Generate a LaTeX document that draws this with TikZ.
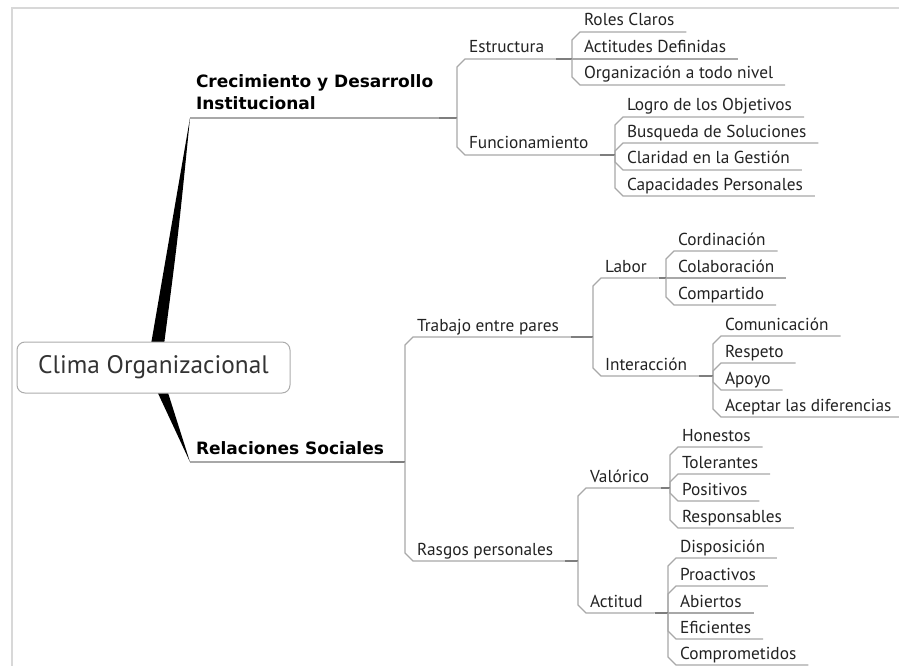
\documentclass[tikz,border=0pt]{standalone}
\usepackage{fontspec}
\setmainfont{PT Sans}
\newfontfamily\headfont{DejaVu Sans}
\definecolor{linkgray}{HTML}{A8A8A8}
\definecolor{stubgray}{HTML}{7E7E7E}
\definecolor{framegray}{HTML}{D8D8D8}
\definecolor{inkgray}{HTML}{222222}

\tikzset{
  topic/.style={anchor=south west, outer sep=0pt, inner xsep=12pt, inner ysep=6pt, text depth=0pt, text=inkgray, font=\fontsize{17.3}{18}\selectfont},
  main/.style={anchor=south west, outer sep=0pt, inner xsep=6pt, inner ysep=8pt, text depth=0pt, align=left, font=\headfont\bfseries\fontsize{17}{22}\selectfont},
  rootbox/.style={draw=gray!65, fill=white, rounded corners=8pt, line width=1pt, minimum width=273pt, minimum height=51pt, text=black!80, font=\fontsize{25.3}{26}\selectfont},
  link/.style={draw=linkgray, line width=1.1pt},
  stub/.style={draw=stubgray, line width=1.1pt},
  taper/.style={fill=black}
}

\begin{document}
\begin{tikzpicture}[x=1pt, y=-1pt]
\useasboundingbox (0,0) rectangle (899,666);
\draw[framegray, line width=1.5pt] (12,666) -- (12,8) -- (899,8);

\coordinate (hub) at (153.5,367.5);
\node[main] (crec) at (190,118) {Crecimiento y Desarrollo\\Institucional};
\node[main] (rel) at (190,462) {Relaciones Sociales};

\node[topic] (estr) at (457,59) {Estructura};
\node[topic] (func) at (457,155) {Funcionamiento};
\node[topic] (trab) at (405,337) {Trabajo entre pares};
\node[topic] (rasg) at (405,561) {Rasgos personales};

\node[topic] (roles) at (572,32) {Roles Claros};
\node[topic] (actd) at (572,59) {Actitudes Definidas};
\node[topic] (orga) at (572,85) {Organización a todo nivel};
\node[topic] (logro) at (615,117) {Logro de los Objetivos};
\node[topic] (busq) at (615,143) {Busqueda de Soluciones};
\node[topic] (clar) at (615,170) {Claridad en la Gestión};
\node[topic] (capa) at (615,196) {Capacidades Personales};

\node[topic] (labor) at (593,278) {Labor};
\node[topic] (inter) at (593,376) {Interacción};
\node[topic] (cord) at (666,251) {Cordinación};
\node[topic] (cola) at (666,278) {Colaboración};
\node[topic] (comp) at (666,305) {Compartido};
\node[topic] (comu) at (713,336) {Comunicación};
\node[topic] (resp) at (713,363) {Respeto};
\node[topic] (apoy) at (713,390) {Apoyo};
\node[topic] (acep) at (713,417) {Aceptar las diferencias};

\node[topic] (valo) at (578,488) {Valórico};
\node[topic] (acti) at (578,613) {Actitud};
\node[topic] (hone) at (670,447) {Honestos};
\node[topic] (tole) at (670,474) {Tolerantes};
\node[topic] (posi) at (670,501) {Positivos};
\node[topic] (respo) at (670,528) {Responsables};
\node[topic] (disp) at (668,558) {Disposición};
\node[topic] (proa) at (668,586) {Proactivos};
\node[topic] (abie) at (668,613) {Abiertos};
\node[topic] (efic) at (668,639) {Eficientes};
\node[topic] (comr) at (668,665) {Comprometidos};

\foreach \m in {crec,rel}
  \draw[link] (\m.south west) -- (\m.south east);
\foreach \p/\kids in {crec/{estr/1,func/-1}, rel/{trab/1,rasg/-1},
    estr/{roles/1,actd/0,orga/-1}, func/{logro/1,busq/1,clar/-1,capa/-1},
    trab/{labor/1,inter/-1}, rasg/{valo/1,acti/-1},
    labor/{cord/1,cola/0,comp/-1}, inter/{comu/1,resp/1,apoy/-1,acep/-1},
    valo/{hone/1,tole/1,posi/-1,respo/-1}, acti/{disp/1,proa/1,abie/0,efic/-1,comr/-1}}
  \foreach \c/\s in \kids {
    \draw[stub] (\p.south east) -- (\p.south east -| \c.south west);
    \draw[link] (\p.south east -| \c.south west) -- ([yshift={-8pt*(\s)}]\c.south west)
      -- ([xshift={8pt*abs(\s)}]\c.south west) -- (\c.south east);
  }

\fill[taper] ([xshift=-6.5pt]hub) -- (crec.south west) .. controls (178,238) .. ([xshift=7.5pt]hub) -- cycle;
\fill[taper] ([xshift=-7.5pt]hub) -- (rel.south west) -- ([xshift=6.5pt]hub) -- cycle;
\node[rootbox] (clima) at (hub) {Clima Organizacional};
\end{tikzpicture}
\end{document}
